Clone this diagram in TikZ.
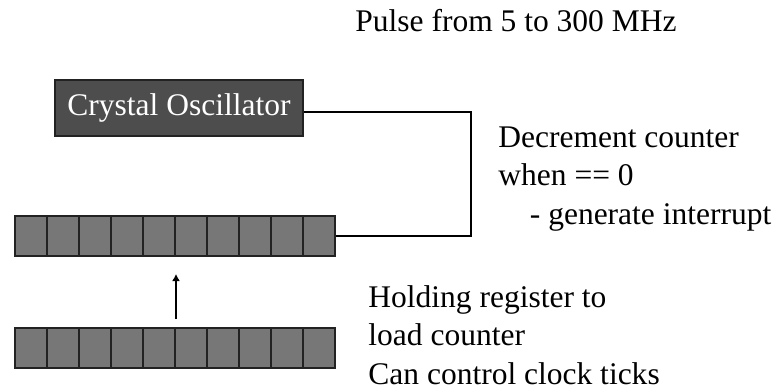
\documentclass[tikz,border=0pt]{standalone}
\usepackage{fontspec}
\setmainfont{Liberation Serif}
\usetikzlibrary{arrows.meta,positioning}
\definecolor{osc}{HTML}{4D4D4D}
\definecolor{cell}{HTML}{777777}
\definecolor{edge}{HTML}{222222}

\begin{document}
\begin{tikzpicture}[
  x=0.5pt, y=-0.5pt,
  font=\fontsize{15.75}{19.25}\selectfont,
  chip/.style={draw=edge, fill=osc, text=white, minimum width=124pt, minimum height=28pt, inner sep=0pt, line width=0.6pt},
  bit/.style={draw=edge, fill=cell, minimum width=16pt, minimum height=20pt, inner sep=0pt, line width=1pt},
  wire/.style={line width=1pt},
  load/.style={-{Latex[length=3.5pt,width=4pt]}, line width=1pt},
  note/.style={anchor=base west, align=left, inner sep=0pt}
]
\useasboundingbox (0,0) rectangle (780,390);
\node[chip] (osc) at (179,108) {Crystal Oscillator};
% counter and holding register
\foreach \i in {1,...,10} {
  \node[bit] (c\i) at (\i*32-1,236) {};
  \node[bit] (h\i) at (\i*32-1,348) {};
}
% base anchor sits on the last line
\node[note] (pulse) at (355,32) {Pulse from 5 to 300 MHz};
\node[note] (dec) at (498,224) {Decrement counter\\when == 0\\\hspace*{1em}- generate interrupt};
\node[note] (hold) at (368,384) {Holding register to\\load counter\\Can control clock ticks};

\coordinate (bend) at (471,112);
\draw[wire] ([yshift=-2pt]osc.east) -| (bend) |- (c10.east);
\draw[load] ([yshift=4pt]h5.north east) -- ([yshift=-8.5pt]c5.south east);
\end{tikzpicture}
\end{document}
